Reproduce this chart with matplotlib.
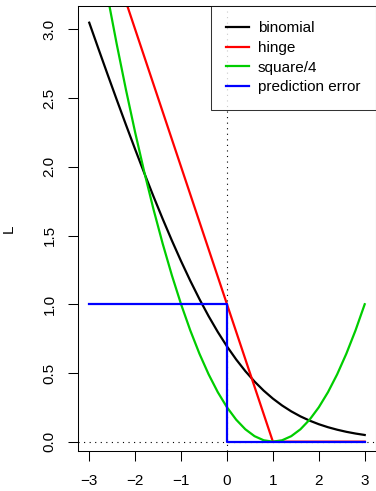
import matplotlib
matplotlib.use("Agg")
import matplotlib.pyplot as plt

plt.rcParams["font.family"] = ["Liberation Sans", "DejaVu Sans"]

# margin f, sampled every 0.2 from -3 to 3
f_grid = [-3.0, -2.8, -2.6, -2.4, -2.2, -2.0, -1.8, -1.6, -1.4, -1.2, -1.0,
          -0.8, -0.6, -0.4, -0.2, 0.0, 0.2, 0.4, 0.6, 0.8, 1.0,
          1.2, 1.4, 1.6, 1.8, 2.0, 2.2, 2.4, 2.6, 2.8, 3.0]

binomial = [3.0486, 2.8590, 2.6716, 2.4868, 2.3051, 2.1269, 1.9530, 1.7838, 1.6204, 1.4633, 1.3133,
            1.1711, 1.0375, 0.9130, 0.7981, 0.6931, 0.5981, 0.5130, 0.4375, 0.3711, 0.3133,
            0.2633, 0.2204, 0.1839, 0.1530, 0.1269, 0.1051, 0.0869, 0.0716, 0.0590, 0.0486]

square4 = [4.00, 3.61, 3.24, 2.89, 2.56, 2.25, 1.96, 1.69, 1.44, 1.21, 1.00,
           0.81, 0.64, 0.49, 0.36, 0.25, 0.16, 0.09, 0.04, 0.01, 0.00,
           0.01, 0.04, 0.09, 0.16, 0.25, 0.36, 0.49, 0.64, 0.81, 1.00]

hinge_f = [-3, 1, 3]
hinge = [4, 0, 0]

pred_f = [-3, 0, 0, 3]
pred_err = [1, 1, 0, 0]

labels = ["binomial", "hinge", "square/4", "prediction error"]
colors = ["black", "#FF0000", "#00CD00", "#0000FF"]

W, H = 376, 491
fig = plt.figure(figsize=(W / 100, H / 100), dpi=100)
ax = fig.add_axes([78 / W, 1 - 451 / H, 297.5 / W, 445 / H])

lw = 1.6
ax.plot(f_grid, binomial, color=colors[0], lw=lw, label=labels[0])
ax.plot(hinge_f, hinge, color=colors[1], lw=lw, label=labels[1])
ax.plot(f_grid, square4, color=colors[2], lw=lw, label=labels[2])
ax.plot(pred_f, pred_err, color=colors[3], lw=lw, label=labels[3])

ax.axvline(0, color="black", lw=0.8, ls=(0, (1, 4)), zorder=0)
ax.axhline(0, color="black", lw=0.8, ls=(0, (1, 4)), zorder=0)

ax.set_xlim(-3.245, 3.235)
ax.set_ylim(-0.068, 3.17)

fs = 11
ax.set_xticks([-3, -2, -1, 0, 1, 2, 3])
ax.set_xticklabels(["\u22123", "\u22122", "\u22121", "0", "1", "2", "3"])
ax.set_yticks([0.0, 0.5, 1.0, 1.5, 2.0, 2.5, 3.0])
ax.set_yticklabels(["0.0", "0.5", "1.0", "1.5", "2.0", "2.5", "3.0"],
                   rotation=90, va="center")

ax.tick_params(axis="both", direction="out", length=7.5, width=0.75,
               labelsize=fs, colors="black")
ax.tick_params(axis="x", pad=9)
ax.tick_params(axis="y", pad=8)
for s in ax.spines.values():
    s.set_linewidth(0.75)

ax.set_ylabel("L", fontsize=fs, labelpad=19)

leg = ax.legend(loc="upper right", fontsize=fs, frameon=True, fancybox=False,
                edgecolor="black", borderaxespad=0, handlelength=1.45,
                handletextpad=0.6, borderpad=1.0, labelspacing=0.37)
leg.get_frame().set_linewidth(0.75)

fig.savefig("out.png", dpi=100)
